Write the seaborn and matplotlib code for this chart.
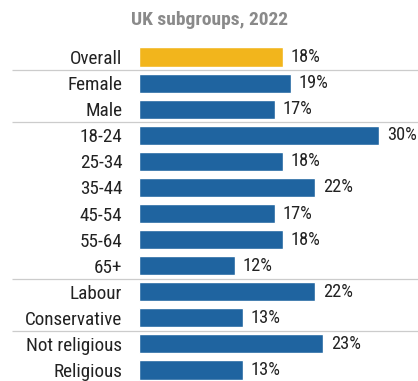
import matplotlib
matplotlib.use("Agg")
import matplotlib.pyplot as plt
import seaborn as sns
import pandas as pd
from matplotlib import font_manager

categories = ["Overall", "Female", "Male", "18-24", "25-34", "35-44", "45-54",
              "55-64", "65+", "Labour", "Conservative", "Not religious", "Religious"]
values = [18, 19, 17, 30, 18, 22, 17, 18, 12, 22, 13, 23, 13]
groups = ["overall"] + ["sub"] * 12
title = "UK subgroups, 2022"

sns.set_theme(style="white")
names = {f.name for f in font_manager.fontManager.ttflist}
fam = [f for f in ["Liberation Sans Narrow", "Roboto Condensed", "Roboto", "DejaVu Sans"] if f in names]
plt.rcParams["font.family"] = fam

df = pd.DataFrame({"cat": categories, "val": values, "grp": groups})

W, H = 418, 381
fig = plt.figure(figsize=(W / 100, H / 100), dpi=100)
left_px = 139
ppu = 8.0
ax = fig.add_axes([left_px / W, 0, (W - left_px) / W, 1])
sns.barplot(data=df, y="cat", x="val", hue="grp", orient="h",
            palette={"overall": "#f2b51c", "sub": "#1f64a0"},
            width=0.73, legend=False, ax=ax, saturation=1)
ax.set_xlim(0, (W - left_px) / ppu)
sp = 26.08
ax.set_ylim(12 + (H - 370) / sp, -57 / sp)
ax.set_xlabel("")
ax.set_ylabel("")
ax.set_xticks([])
for s in ax.spines.values():
    s.set_visible(False)
ax.tick_params(axis="y", length=0, pad=12, labelsize=13.8, labelcolor="#222222")

for i, v in enumerate(values):
    ax.text(v + 1.0, i, f"{v}%", va="center", ha="left", fontsize=13.2, color="#222222")

for y in [0.5, 2.5, 8.5, 10.5]:
    ax.hlines(y, -(left_px - 12) / ppu, (W - left_px) / ppu, color="#cccccc", lw=0.9, clip_on=False)

fig.text(210 / W, 1 - 20 / H, title, ha="center", va="center", fontsize=14,
         fontweight="bold", color="#8a8a8a")

fig.savefig("out.png", dpi=100)
